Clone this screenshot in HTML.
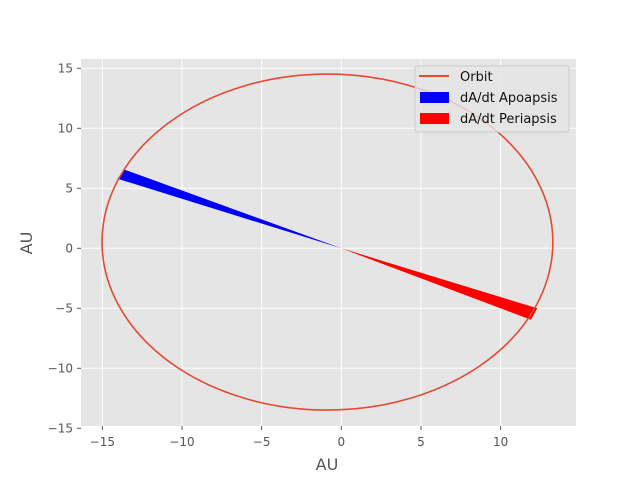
<!DOCTYPE html>
<html><head><meta charset="utf-8"><style>
body{margin:0;background:#fff}
svg{display:block;font-family:"DejaVu Sans","Liberation Sans",sans-serif}
</style></head><body>
<svg id="c" width="640" height="480">
<rect x="81" y="59" width="495" height="367" fill="#e5e5e5"/>
<g id="grid"></g>
<g id="marks"></g>
<g id="ticks"></g>
<text x="327" y="470" font-size="16" fill="#555" text-anchor="middle">AU</text>
<text transform="translate(32,243) rotate(-90)" font-size="16" fill="#555" text-anchor="middle">AU</text>
<g>
<rect x="415" y="66" width="154" height="66" rx="2" fill="#e5e5e5" fill-opacity="0.8" stroke="#ccc"/>
<line x1="419" y1="76" x2="449" y2="76" stroke="#e24a33" stroke-width="2"/>
<text x="460" y="81" font-size="13" fill="#111">Orbit</text>
<rect x="420" y="92" width="29" height="11" fill="#0000ff"/>
<text x="460" y="102" font-size="13" fill="#111">dA/dt Apoapsis</text>
<rect x="420" y="113" width="29" height="11" fill="#ff0000"/>
<text x="460" y="123" font-size="13" fill="#111">dA/dt Periapsis</text>
</g>
</svg>
<script>
const xTicks=[-15,-10,-5,0,5,10];
const yTicks=[-15,-10,-5,0,5,10,15];
const orbitCenter=[-0.87,0.52];
const orbitRadii=[14.15,14.0];
const apoWedge=[[-14.05,5.8],[-13.6,6.55]];
const periWedge=[[12.3,-5.0],[11.9,-5.95]];
const X=v=>341.3+v*15.93, Y=v=>248.3-v*12;
const NS="http://www.w3.org/2000/svg";
function mk(p,t,a){const e=document.createElementNS(NS,t);for(const k in a)e.setAttribute(k,a[k]);p.appendChild(e);return e;}
const g=document.getElementById('grid'),tk=document.getElementById('ticks'),m=document.getElementById('marks');
xTicks.forEach(v=>{
 const l=mk(g,'line',{x1:X(v),x2:X(v),y1:59,y2:426,stroke:'#fff','stroke-width':1});
 
 
 mk(tk,'line',{x1:X(v),x2:X(v),y1:426,y2:430,stroke:'#555'});
 const t=mk(tk,'text',{x:X(v),y:446,'font-size':12,fill:'#555','text-anchor':'middle'});t.textContent=(v<0?'\u2212'+(-v):v);
 
 
});
yTicks.forEach(v=>{
 const l=mk(g,'line',{x1:81,x2:576,y1:Y(v),y2:Y(v),stroke:'#fff','stroke-width':1});
 
 
 mk(tk,'line',{x1:77,x2:81,y1:Y(v),y2:Y(v),stroke:'#555'});
 const t=mk(tk,'text',{x:73,y:Y(v)+4,'font-size':12,fill:'#555','text-anchor':'end'});t.textContent=(v<0?'\u2212'+(-v):v);
 
 
});
function wedge(w,c,n){
 const p=mk(m,'polygon',{points:`${X(0)},${Y(0)} ${X(w[0][0])},${Y(w[0][1])} ${X(w[1][0])},${Y(w[1][1])}`,fill:c});
 
 
}
wedge(apoWedge,'#0000ff','apoapsis-wedge');
wedge(periWedge,'#ff0000','periapsis-wedge');
const e=mk(m,'ellipse',{cx:X(orbitCenter[0]),cy:Y(orbitCenter[1]),rx:orbitRadii[0]*15.93,ry:orbitRadii[1]*12,fill:'none',stroke:'#e24a33','stroke-width':1.6});


</script>
</body></html>
